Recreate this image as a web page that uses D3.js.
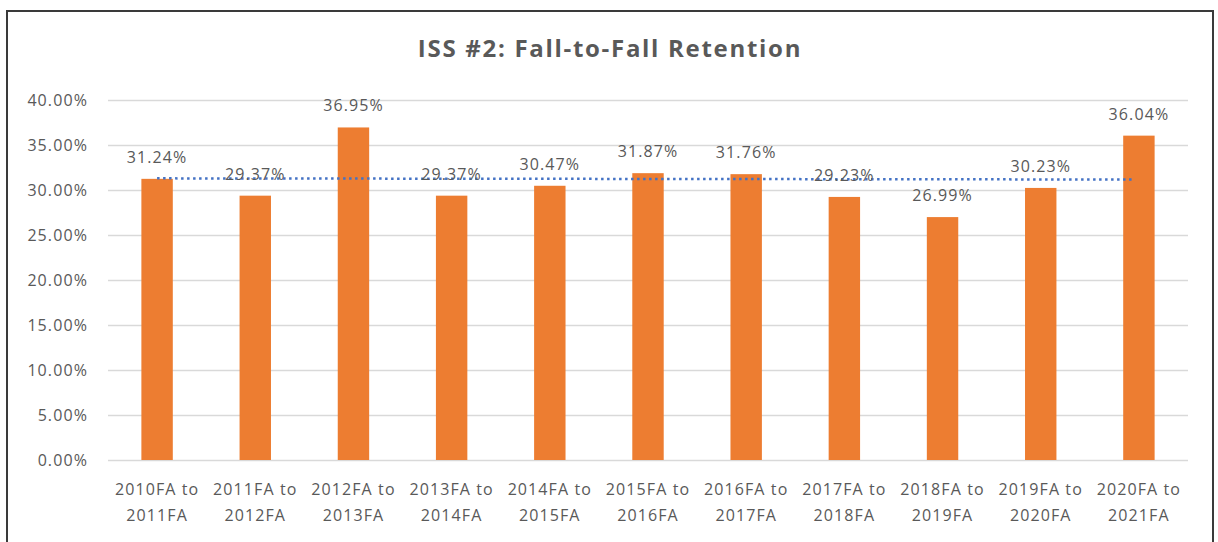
<!DOCTYPE html>
<html>
<head>
<meta charset="utf-8">
<script src="https://cdn.jsdelivr.net/npm/d3@7"></script>
<style>
  body { margin: 0; background: #fff; }
  text { font-family: "Open Sans", sans-serif; fill: #595959; }
</style>
</head>
<body>
<div id="main"></div>
<script>

const periods = ['2010FA to 2011FA', '2011FA to 2012FA', '2012FA to 2013FA', '2013FA to 2014FA',
    '2014FA to 2015FA', '2015FA to 2016FA', '2016FA to 2017FA', '2017FA to 2018FA',
    '2018FA to 2019FA', '2019FA to 2020FA', '2020FA to 2021FA'];
const retention = [0.3124, 0.2937, 0.3695, 0.2937, 0.3047, 0.3187, 0.3176, 0.2923, 0.2699, 0.3023, 0.3604];
const yTicks = [0, 0.05, 0.10, 0.15, 0.20, 0.25, 0.30, 0.35, 0.40];

const w = 1218;
const h = 542;

const svg = d3.select('#main').append('svg').attr('width', w).attr('height', h);

// chart frame
svg.append('rect').attr('x', 7).attr('y', 11).attr('width', 1206).attr('height', 540)
    .attr('fill', '#fff').attr('stroke', '#3a3a3a').attr('stroke-width', 2);

// title
svg.append('text').attr('x', 610).attr('y', 57).attr('text-anchor', 'middle')
    .style('font-size', '24px').style('font-weight', 'bold').style('letter-spacing', '1.7px')
    .text('ISS #2: Fall-to-Fall Retention');

const data = periods.map((p, i) => ({ period: p, value: retention[i] }));

const xScale = d3.scaleBand().domain(periods).range([108, 1188]).paddingInner(0.68).paddingOuter(0.34);
const yScale = d3.scaleLinear().domain([0, 0.4]).range([460, 100]);

// gridlines + y labels
const yAxis = d3.axisLeft(yScale).tickValues(yTicks).tickFormat(d3.format('.2%'))
    .tickSize(-1080).tickPadding(20);
const gy = svg.append('g').attr('transform', 'translate(108,0)').call(yAxis);
gy.select('.domain').remove();
gy.selectAll('line').attr('stroke', '#d9d9d9').attr('stroke-width', 1.3);
gy.selectAll('text').attr('fill', '#595959').style('font-size', '16px').style('letter-spacing', '1.1px')
    .style('font-family', '"Open Sans", sans-serif');

// bars
svg.selectAll('rect.bar').data(data).enter().append('rect')
    .attr('class', 'bar')
    .attr('x', d => xScale(d.period))
    .attr('y', d => yScale(d.value))
    .attr('width', xScale.bandwidth())
    .attr('height', d => yScale(0) - yScale(d.value))
    .attr('fill', '#ED7D31');

// linear trendline
const n = retention.length;
const mx = d3.mean(retention, (d, i) => i);
const my = d3.mean(retention);
const slope = d3.sum(retention, (d, i) => (i - mx) * (d - my)) / d3.sum(retention, (d, i) => (i - mx) * (i - mx));
const icpt = my - slope * mx;
const cx = i => xScale(periods[i]) + xScale.bandwidth() / 2;
svg.append('line')
    .attr('x1', cx(0)).attr('y1', yScale(icpt))
    .attr('x2', cx(n - 1) - 6).attr('y2', yScale(icpt + slope * (n - 1)))
    .attr('stroke', '#4472C4').attr('stroke-width', 2.5).attr('stroke-dasharray', '2.5,3.5');

// data labels
svg.selectAll('text.lbl').data(data).enter().append('text')
    .attr('class', 'lbl')
    .attr('x', d => xScale(d.period) + xScale.bandwidth() / 2)
    .attr('y', d => yScale(d.value) - 16)
    .attr('text-anchor', 'middle')
    .style('font-size', '16px').style('letter-spacing', '1.1px')
    .text(d => d3.format('.2%')(d.value));

// x labels (two lines)
const xl = svg.selectAll('text.xl').data(periods).enter().append('text')
    .attr('class', 'xl')
    .attr('text-anchor', 'middle')
    .style('font-size', '16px').style('letter-spacing', '1.1px');
xl.append('tspan').attr('x', d => xScale(d) + xScale.bandwidth() / 2).attr('y', 495)
    .text(d => d.split(' to ')[0] + ' to');
xl.append('tspan').attr('x', d => xScale(d) + xScale.bandwidth() / 2).attr('y', 521)
    .text(d => d.split(' to ')[1]);

</script>
</body>
</html>
